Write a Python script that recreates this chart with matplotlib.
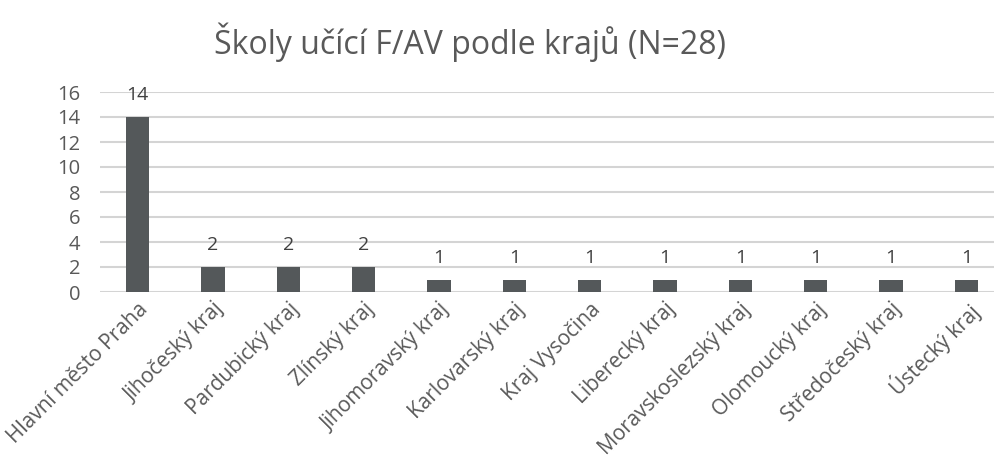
import matplotlib.pyplot as plt

plt.rcParams['font.family'] = ['Open Sans', 'DejaVu Sans']

kraje = ['Hlavní město Praha', 'Jihočeský kraj', 'Pardubický kraj', 'Zlínský kraj',
         'Jihomoravský kraj', 'Karlovarský kraj', 'Kraj Vysočina', 'Liberecký kraj',
         'Moravskoslezský kraj', 'Olomoucký kraj', 'Středočeský kraj', 'Ústecký kraj']
skoly = [14, 2, 2, 2, 1, 1, 1, 1, 1, 1, 1, 1]
yticks = [0, 2, 4, 6, 8, 10, 12, 14, 16]

txt = '#595959'
fig = plt.figure(figsize=(9.95, 4.55), dpi=100)
ax = fig.add_axes([100 / 995, 163 / 455, 904 / 995, 200 / 455])

x = range(len(kraje))
bars = ax.bar(x, skoly, width=0.31, color='#54585a', zorder=3)
for b, v in zip(bars, skoly):
    ax.annotate(str(v), (b.get_x() + b.get_width() / 2, v), xytext=(0, 9),
                textcoords='offset points', ha='center', va='bottom',
                fontsize=14, color='#404040')

ax.set_xlim(-0.5, len(kraje) - 0.5)
ax.set_ylim(0, 16)
ax.set_yticks(yticks)
ax.yaxis.grid(True, color='#d4d4d4', linewidth=1.5, zorder=0)
ax.set_xticks(list(x))
ax.set_xticklabels(kraje, rotation=45, ha='right', rotation_mode='anchor')
ax.tick_params(axis='both', length=0, labelcolor=txt)
ax.tick_params(axis='x', pad=5, labelsize=15)
ax.tick_params(axis='y', pad=14, labelsize=14.5)
for s in ax.spines.values():
    s.set_visible(False)

fig.text(470 / 995, 1 - 42 / 455, 'Školy učící F/AV podle krajů (N=28)',
         ha='center', va='center', fontsize=23, color=txt)

fig.savefig('out.png', dpi=100)
